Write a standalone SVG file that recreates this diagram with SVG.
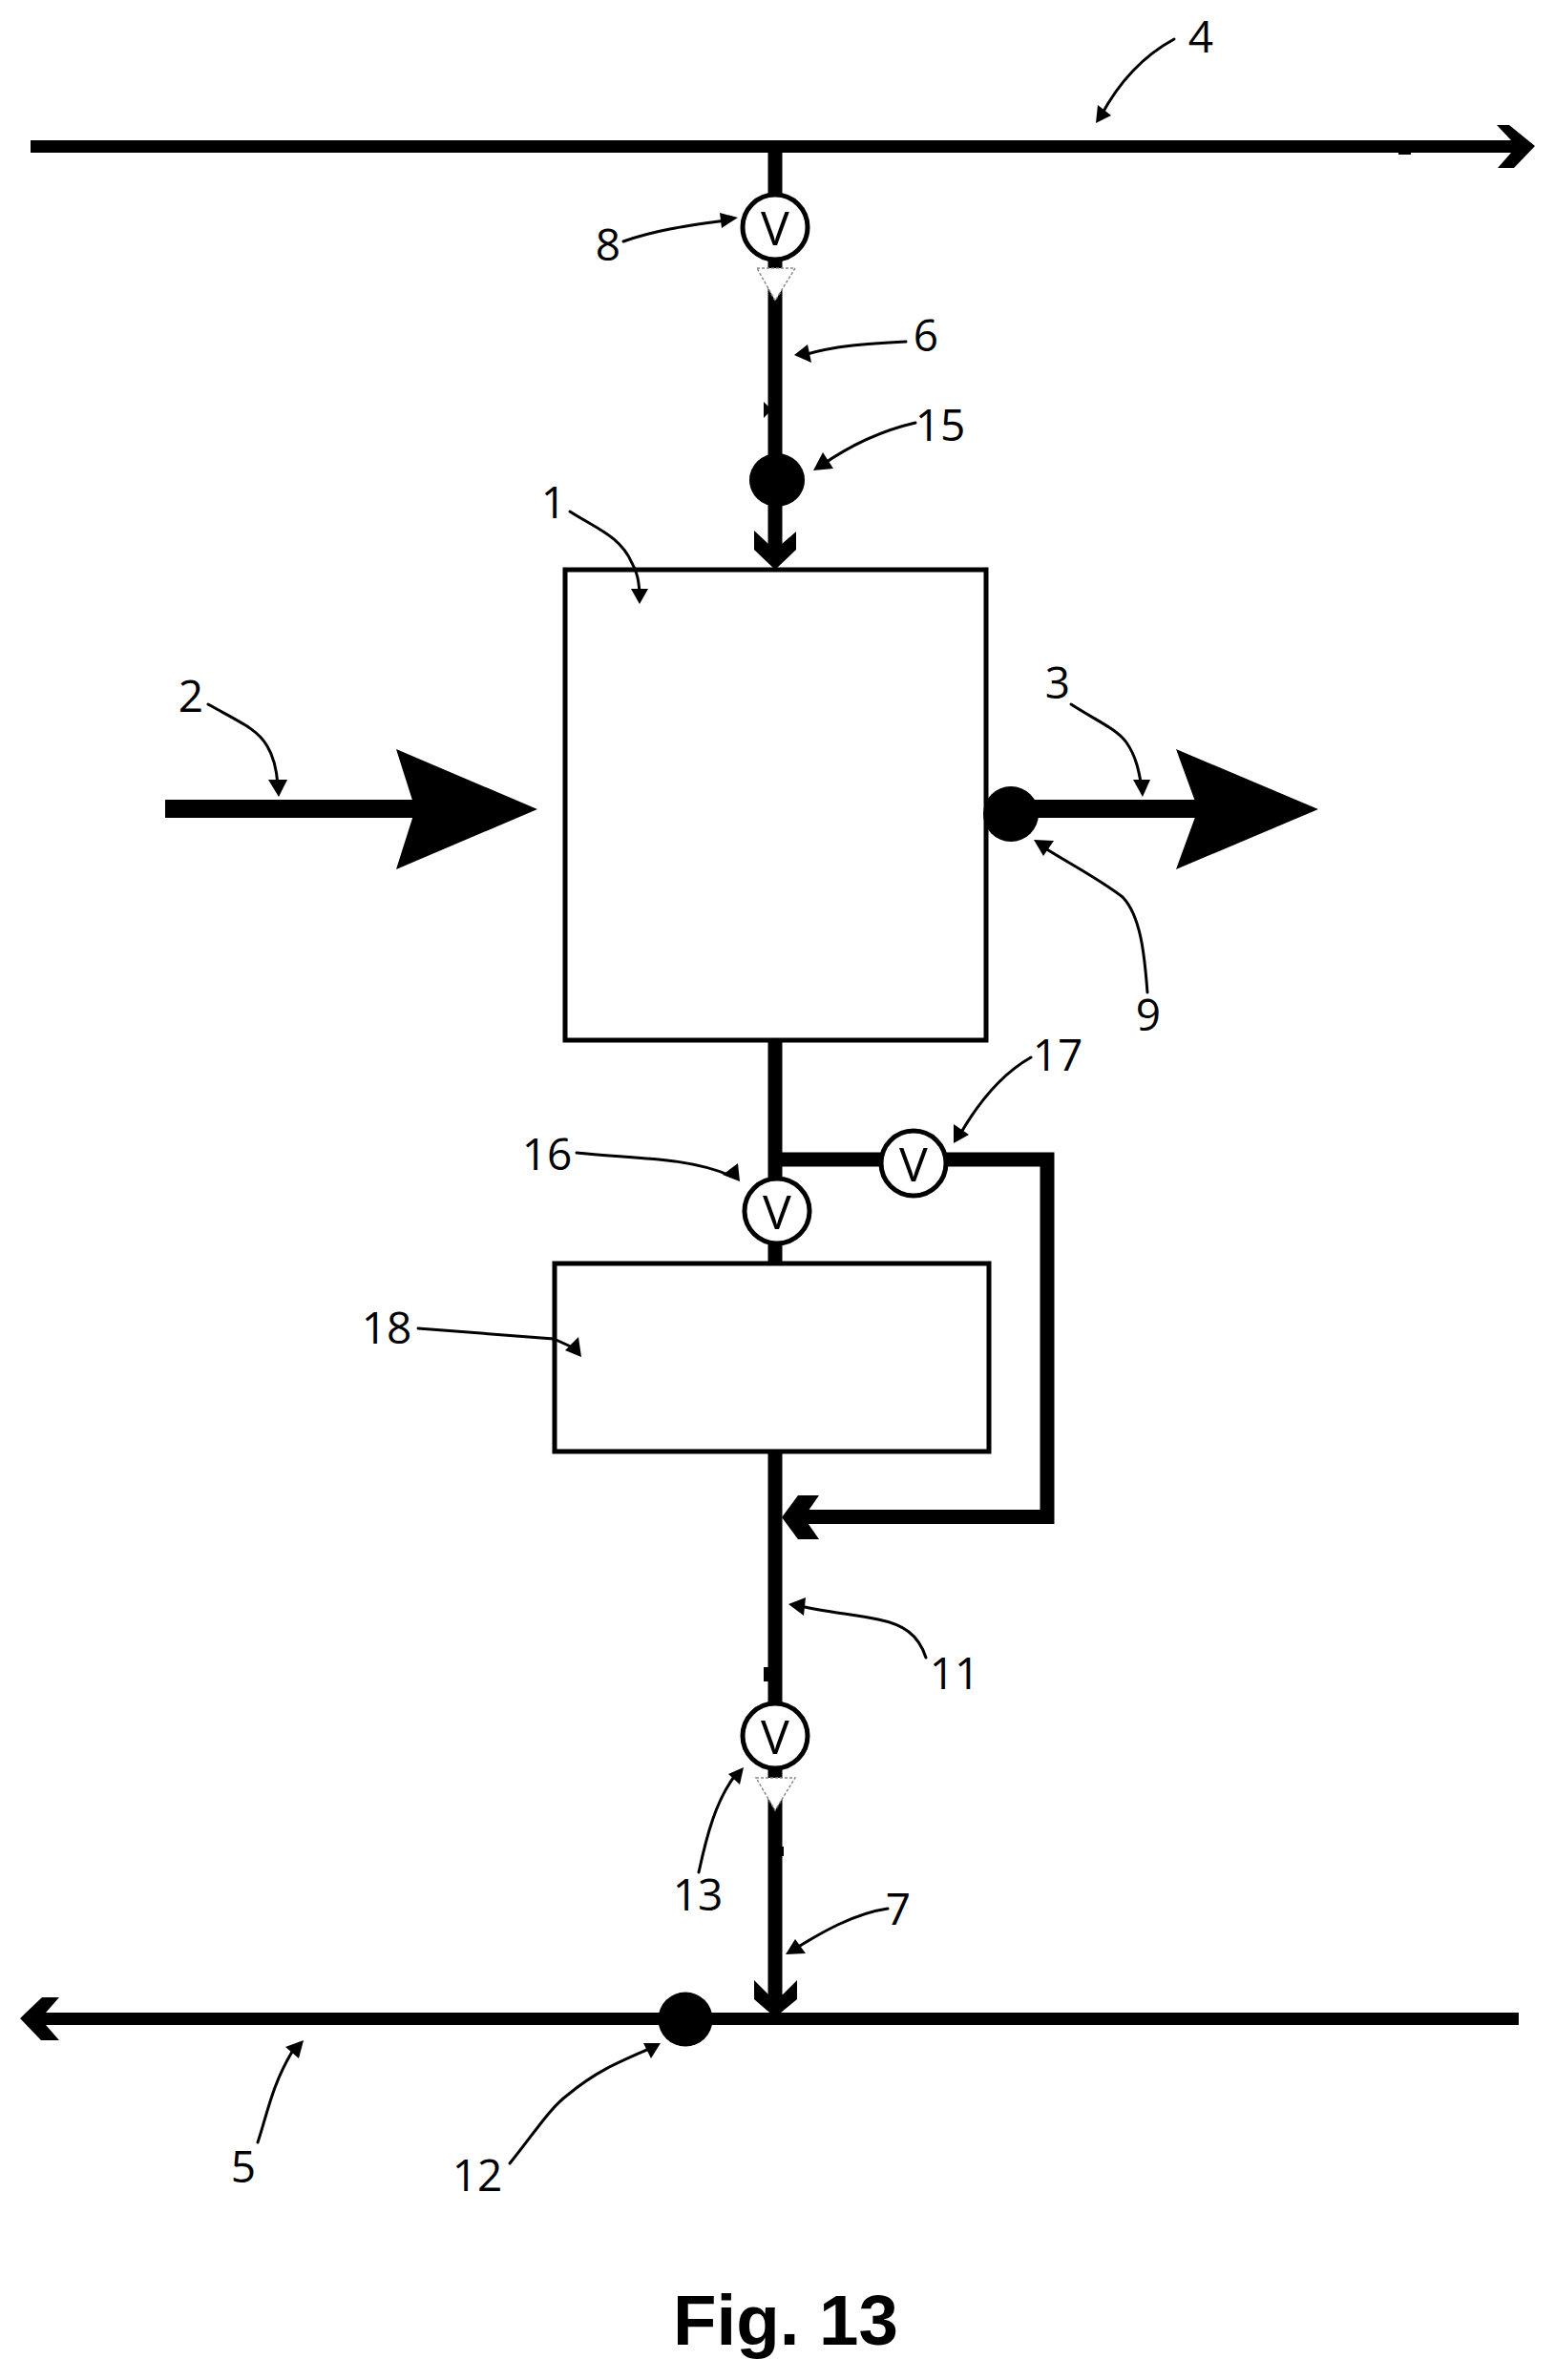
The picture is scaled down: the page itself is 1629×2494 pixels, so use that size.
<svg xmlns="http://www.w3.org/2000/svg" width="1629" height="2494" viewBox="0 0 1629 2494">
<style>
.pipe{fill:none;stroke:#000;stroke-width:15;stroke-linejoin:miter}
.main{stroke-width:13}
.head{fill:#000;stroke:none}
.box{fill:#fff;stroke:#000;stroke-width:5}
.valve{fill:#fff;stroke:#000;stroke-width:5}
.tri{fill:#fff;stroke:#888;stroke-width:1.500;stroke-dasharray:3 2}
.dot{fill:#000}
.lead{fill:none;stroke:#000;stroke-width:3;stroke-linecap:round}
text{font-family:"Open Sans","Noto Sans",sans-serif;fill:#000;text-anchor:middle}
.num{font-size:46px}
.v{font-size:50px}
.cap{font-family:"Liberation Sans",Arial,sans-serif;font-weight:700;font-size:74.500px}
</style>
<rect width="1629" height="2494" fill="#fff"/>
<g id="connectors">
<path class="pipe main" d="M32 153.500H1590"/>
<polygon class="head" points="1568,131 1581,131 1608,153 1586,176 1569,176 1583,160 1583,147"/>
<rect class="head" x="1465" y="158" width="13" height="4"/>
<path class="pipe" d="M812 150V570"/>
<polygon class="head" points="790,556 805,570 819,570 834,557 834,576 812,597 790,576"/>
<polygon class="head" points="800,421 805,426 805,433 800,438"/>
<path class="pipe" d="M812 1090V1322"/>
<path class="pipe" d="M812 1215H1097V1589.500H840"/>
<polygon class="head" points="836,1567 858,1567 842,1590 858,1613 836,1613 819,1590"/>
<path class="pipe" d="M812 1520V2100"/>
<rect class="head" x="800" y="1747" width="6" height="15"/>
<rect class="head" x="818" y="1935" width="3" height="10"/>
<polygon class="head" points="790,2075 805,2090 820,2090 835,2075 835,2095 812,2114 790,2095"/>
<path class="pipe main" d="M45 2115.500H1591"/>
<polygon class="head" points="21,2115 44,2093 62,2093 48,2109 48,2122 62,2138 43,2138"/>
<path class="pipe" style="stroke-width:19" d="M173 847.500H440"/>
<polygon class="head" points="415,785 563,848 415,911 435,848"/>
<path class="pipe" style="stroke-width:19" d="M1060 847.500H1260"/>
<polygon class="head" points="1232,785 1381,848 1232,911 1255,848"/>
</g>
<g id="node-1"><rect class="box" x="592" y="597" width="441" height="493"/></g>
<g id="node-18"><rect class="box" x="581" y="1324" width="455" height="197"/></g>
<g id="valve-8"><circle class="valve" cx="812" cy="238" r="34"/><text class="v" x="812" y="257">V</text><polygon class="tri" points="793,281 833,281 812,315"/></g>
<g id="valve-16"><circle class="valve" cx="814" cy="1269" r="34"/><text class="v" x="814" y="1288">V</text></g>
<g id="valve-17"><circle class="valve" cx="957" cy="1219" r="34"/><text class="v" x="957" y="1238">V</text></g>
<g id="valve-13"><circle class="valve" cx="812" cy="1819" r="34"/><text class="v" x="812" y="1838">V</text><polygon class="tri" points="792,1863 833,1863 812,1897"/></g>
<g id="sensor-15"><ellipse class="dot" cx="814" cy="503" rx="29" ry="28"/></g>
<g id="sensor-9"><circle class="dot" cx="1059" cy="853" r="29"/></g>
<g id="sensor-12"><circle class="dot" cx="718" cy="2116" r="28.500"/></g>
<g id="leaders">
<path class="lead" d="M1230 41C1195 60 1170 90 1153 122"/><polygon class="head" points="1148,129 1150,110 1164,121"/>
<path class="lead" d="M653 253C690 240 725 236 760 231"/><polygon class="head" points="773,228 754,223 756,239"/>
<path class="lead" d="M949 358C910 360 875 362 842 372"/><polygon class="head" points="832,372 846,361 850,380"/>
<path class="lead" d="M959 443C920 452 890 467 860 488"/><polygon class="head" points="852,493 862,474 873,491"/>
<path class="lead" d="M597 536C625 554 650 562 662 590C668 600 669 610 670 620"/><polygon class="head" points="670,633 661,617 679,617"/>
<path class="lead" d="M218 738C250 756 270 764 280 782C288 795 290 810 291 822"/><polygon class="head" points="292,835 281,817 301,817"/>
<path class="lead" d="M1122 738C1150 756 1170 764 1180 778C1192 795 1194 815 1196 825"/><polygon class="head" points="1197,835 1187,817 1205,817"/>
<path class="lead" d="M1202 1040C1199 1000 1195 960 1176 940C1150 920 1120 905 1092 887"/><polygon class="head" points="1083,880 1104,881 1093,897"/>
<path class="lead" d="M604 1208C660 1214 720 1212 765 1232"/><polygon class="head" points="775,1238 773,1219 757,1231"/>
<path class="lead" d="M1080 1108C1050 1125 1025 1155 1005 1190"/><polygon class="head" points="999,1198 999,1178 1015,1189"/>
<path class="lead" d="M438 1392C490 1396 540 1400 580 1403L600 1412"/><polygon class="head" points="609,1422 606,1401 592,1415"/>
<path class="lead" d="M970 1737C962 1712 945 1702 920 1697C895 1692 865 1689 838 1683"/><polygon class="head" points="826,1681 844,1674 842,1693"/>
<path class="lead" d="M732 1962C740 1925 750 1885 772 1858"/><polygon class="head" points="779,1852 763,1859 775,1870"/>
<path class="lead" d="M930 2000C895 2005 860 2025 830 2044"/><polygon class="head" points="823,2048 833,2032 844,2047"/>
<path class="lead" d="M270 2245C280 2215 285 2185 306 2150"/><polygon class="head" points="318,2138 299,2145 313,2157"/>
<path class="lead" d="M534 2267C560 2235 575 2210 595 2195C625 2170 650 2160 680 2147"/><polygon class="head" points="682,2157 674,2141 692,2141"/>
</g>
<g id="labels">
<text class="num" x="1258" y="55">4</text>
<text class="num" x="637" y="273">8</text>
<text class="num" x="970" y="368">6</text>
<text class="num" x="985" y="462">15</text>
<text class="num" x="580" y="543">1</text>
<text class="num" x="200" y="746">2</text>
<text class="num" x="1108" y="732">3</text>
<text class="num" x="1203" y="1080">9</text>
<text class="num" x="573" y="1226">16</text>
<text class="num" x="1108" y="1122">17</text>
<text class="num" x="405" y="1408">18</text>
<text class="num" x="1000" y="1770">11</text>
<text class="num" x="731" y="2002">13</text>
<text class="num" x="941" y="2017">7</text>
<text class="num" x="255" y="2287">5</text>
<text class="num" x="500" y="2296">12</text>
<text class="cap" x="823" y="2457">Fig. 13</text>
</g>
</svg>
